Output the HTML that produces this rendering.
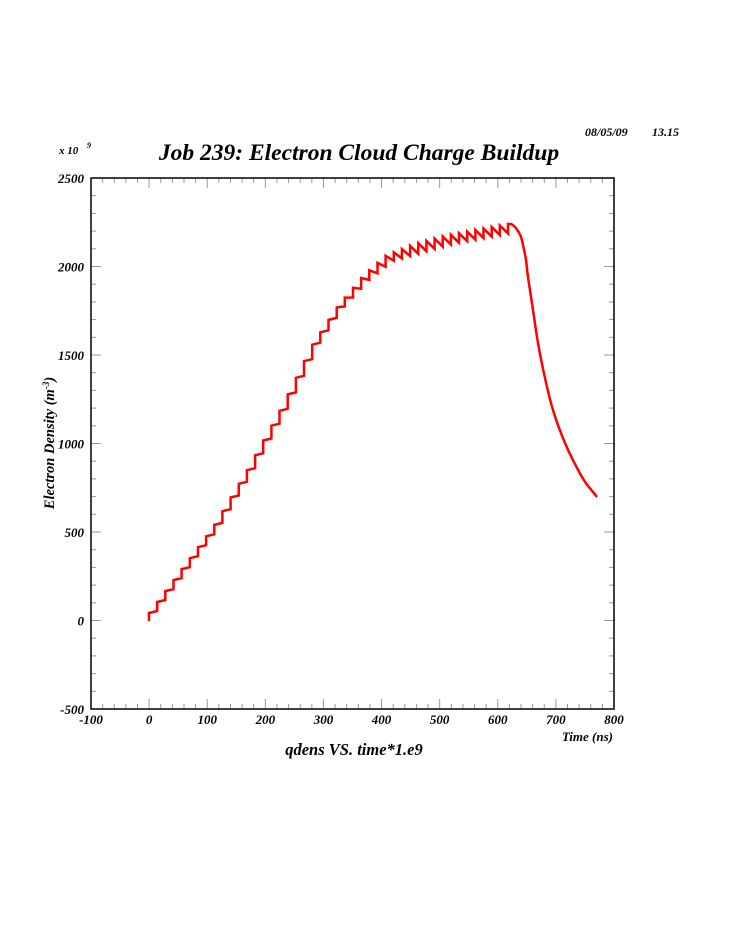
<!DOCTYPE html>
<html><head><meta charset="utf-8"><style>
html,body{margin:0;padding:0;background:#fff;}
svg{display:block;}
text{font-family:"Liberation Serif",serif;font-weight:bold;font-style:italic;fill:#000;}
</style></head><body>
<svg id="s" width="739" height="947" xmlns="http://www.w3.org/2000/svg">
<text x="585" y="136" font-size="12">08/05/09</text><text x="679" y="136" font-size="12" text-anchor="end">13.15</text>
<text x="59" y="154" font-size="11">x 10</text><text x="87" y="148" font-size="8">9</text>
<text x="359" y="160" font-size="23.5" text-anchor="middle">Job 239: Electron Cloud Charge Buildup</text>
<g id="ticks" stroke="#999" stroke-width="1"></g>
<rect x="91" y="178" width="523" height="531" fill="none" stroke="#000" stroke-width="1.5"/>
<g font-size="13" id="labels"></g>
<text x="613" y="741" font-size="13" text-anchor="end">Time (ns)</text>
<text x="354" y="755" font-size="16.5" text-anchor="middle">qdens VS. time*1.e9</text>
<text transform="translate(54,443) rotate(-90)" font-size="14.5" text-anchor="middle">Electron Density (m<tspan font-size="9" dy="-5">-3</tspan><tspan dy="5">)</tspan></text>
<polyline id="curve" fill="none" stroke="#f00" stroke-width="2.5" stroke-linejoin="miter"/>
</svg>
<script>
var ns="http://www.w3.org/2000/svg";
var L=91,R=614,T=178,B=709;
var tk=document.getElementById("ticks"),lb=document.getElementById("labels");
function line(x1,y1,x2,y2){var l=document.createElementNS(ns,"line");l.setAttribute("x1",x1);l.setAttribute("y1",y1);l.setAttribute("x2",x2);l.setAttribute("y2",y2);tk.appendChild(l);}
function txt(x,y,s,a){var t=document.createElementNS(ns,"text");t.setAttribute("x",x);t.setAttribute("y",y);t.setAttribute("text-anchor",a);t.textContent=s;lb.appendChild(t);}
for(var v=-100;v<=800;v+=20){var x=L+(v+100)*(R-L)/900;var m=(v%100==0);var len=m?10:5;line(x,B,x,B-len);line(x,T,x,T+len);if(m)txt(x,724,String(v),"middle");}
for(var v=-500;v<=2500;v+=100){var y=B-(v+500)*(B-T)/3000;var m=(v%500==0);var len=m?10:5;line(L,y,L+len,y);line(R,y,R-len,y);if(m)txt(84,y+5,String(v),"end");}
var env=[[149,613],[213,527],[247,470],[280,410],[312,345],[337,307],[362,277],[385,256],[412,245],[440,237],[470,231],[508,224]];
function E(x){for(var i=0;i<env.length-1;i++){if(x<=env[i+1][0]){var a=env[i],b=env[i+1];return a[1]+(b[1]-a[1])*(x-a[0])/(b[0]-a[0]);}}return env[env.length-1][1];}
var pts=[[149,621]];var N=44,dx=(508-149)/N;
for(var k=0;k<N;k++){var x0=149+k*dx,x1=x0+dx;var t=E(x0);var s=Math.max(0,Math.min(1,(x0-330)/80))*10-2;pts.push([x0,t]);pts.push([x1,t+s]);}
pts.push([508,224]);
var dec=[[508,224],[511,224],[515,227],[518,231],[521,237],[523,245],[526,260],[528,277],[533,310],[538,343],[545,378],[553,410],[565,443],[582,477],[597,497]];
for(var i=1;i<dec.length-1;i++){var p0=dec[Math.max(0,i-1)],p1=dec[i],p2=dec[i+1],p3=dec[Math.min(dec.length-1,i+2)];
for(var j=0;j<8;j++){var u=j/8,u2=u*u,u3=u2*u;
function cr(a,b,c,d){return 0.5*((2*b)+(-a+c)*u+(2*a-5*b+4*c-d)*u2+(-a+3*b-3*c+d)*u3);}
pts.push([cr(p0[0],p1[0],p2[0],p3[0]),cr(p0[1],p1[1],p2[1],p3[1])]);}}
pts.push([597,497]);
document.getElementById("curve").setAttribute("points",pts.map(function(p){return p[0].toFixed(1)+","+p[1].toFixed(1);}).join(" "));
</script>
</body></html>
